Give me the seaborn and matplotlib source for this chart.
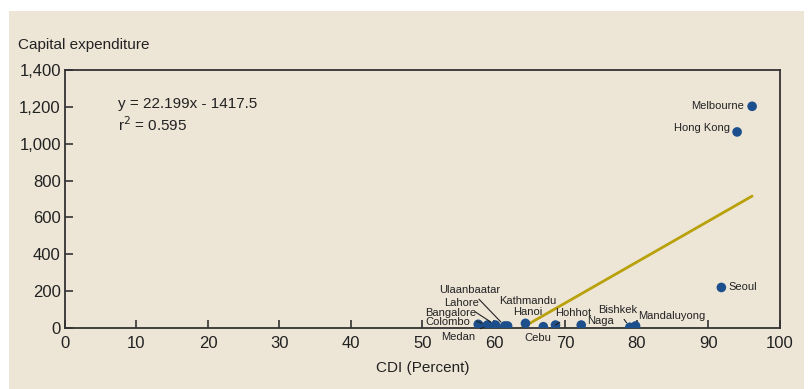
import matplotlib
matplotlib.use("Agg")
import matplotlib.pyplot as plt
from matplotlib.patches import Rectangle
from matplotlib.ticker import FuncFormatter
import seaborn as sns
import pandas as pd
import numpy as np

# City development index vs capital expenditure
cities = ["Melbourne", "Hong Kong", "Seoul", "Colombo", "Medan", "Bangalore",
          "Lahore", "Ulaanbaatar", "Kathmandu", "Hanoi", "Cebu", "Hohhot",
          "Naga", "Bishkek", "Mandaluyong"]
cdi = [96.1, 94.0, 91.8, 57.8, 58.6, 59.1, 60.2, 61.5, 61.9, 64.4, 66.9,
       68.6, 72.2, 79.0, 79.8]
capex = [1203, 1064, 220, 20, 4, 16, 16, 11, 11, 25, 7, 16, 16, 4, 11]

slope, intercept, r2 = 22.199, -1417.5, 0.595

x_ticks = [0, 10, 20, 30, 40, 50, 60, 70, 80, 90, 100]
y_ticks = [0, 200, 400, 600, 800, 1000, 1200, 1400]

df = pd.DataFrame({"city": cities, "cdi": cdi, "capex": capex})

BEIGE = "#EDE6D7"
BLUE = "#1C4F8C"
GOLD = "#B9A10A"

sns.set_theme(style="white")
plt.rcParams["font.family"] = ["Liberation Sans", "DejaVu Sans"]

fig = plt.figure(figsize=(8.12, 3.89), dpi=100, facecolor="white")
panel = Rectangle((9 / 812, 0), (804 - 9) / 812, 1 - 11 / 389,
                  transform=fig.transFigure, facecolor=BEIGE,
                  edgecolor="none", zorder=-10)
fig.add_artist(panel)
ax = fig.add_axes([65 / 812, 1 - 328 / 389, (780 - 65) / 812, (328 - 70) / 389])
ax.set_facecolor(BEIGE)

# trend line from where the fit crosses zero up to the largest CDI
x0 = -intercept / slope
trend = pd.DataFrame({"cdi": [x0, max(cdi)]})
trend["fit"] = slope * trend["cdi"] + intercept
sns.lineplot(data=trend, x="cdi", y="fit", color=GOLD, linewidth=2, ax=ax,
             zorder=2)

sns.scatterplot(data=df, x="cdi", y="capex", color=BLUE, s=48,
                edgecolor="none", ax=ax, zorder=3)

ax.set_xlim(0, 100)
ax.set_ylim(0, 1400)
ax.set_xticks(x_ticks)
ax.set_yticks(y_ticks)
ax.yaxis.set_major_formatter(FuncFormatter(lambda v, p: f"{int(v):,}"))
ax.tick_params(axis="both", direction="in", length=6, width=1.2,
               color="#333333", labelsize=12, labelcolor="#222222", pad=3)
ax.tick_params(axis="x", pad=6)
ax.tick_params(bottom=True, left=True)
for s in ax.spines.values():
    s.set_color("#333333")
    s.set_linewidth(1.3)
ax.set_xlabel("CDI (Percent)", fontsize=11, color="#222222", labelpad=7)
ax.set_ylabel("")

fig.text(18 / 812, 1 - 45 / 389, "Capital expenditure", fontsize=11,
         color="#222222", va="center", ha="left")
ax.text(0.074, 0.87, f"y = {slope}x - {abs(intercept)}", transform=ax.transAxes,
        fontsize=11, color="#222222", va="center")
ax.text(0.074, 0.79, f"r$^2$ = {r2}", transform=ax.transAxes,
        fontsize=11, color="#222222", va="center")

# label placement: (ha, offset-x pts, offset-y pts, leader line)
label_pos = {
    "Melbourne": ("right", -6, 0, False),
    "Hong Kong": ("right", -5, 3, False),
    "Seoul": ("left", 5, 0, False),
    "Colombo": ("right", -6, 2, False),
    "Medan": ("right", -6, -7, True),
    "Bangalore": ("right", -8, 9, True),
    "Lahore": ("right", -12, 16, True),
    "Ulaanbaatar": ("right", -3, 26, True),
    "Kathmandu": ("left", -6, 18, False),
    "Hanoi": ("center", 2, 8, False),
    "Cebu": ("center", -4, -8, False),
    "Hohhot": ("left", 0, 8.5, True),
    "Naga": ("left", 4, 3, False),
    "Bishkek": ("right", 5, 12.5, True),
    "Mandaluyong": ("left", 2, 7.5, False),
}
for city, x, y in zip(cities, cdi, capex):
    ha, dx, dy, lead = label_pos[city]
    props = dict(arrowstyle="-", color="#222222", lw=0.8,
                 shrinkA=1, shrinkB=4) if lead else None
    ax.annotate(city, (x, y), xytext=(dx, dy), textcoords="offset points",
                ha=ha, va="center", fontsize=8, color="#222222",
                arrowprops=props, zorder=4)

fig.savefig("out.png", dpi=100, facecolor="white")
